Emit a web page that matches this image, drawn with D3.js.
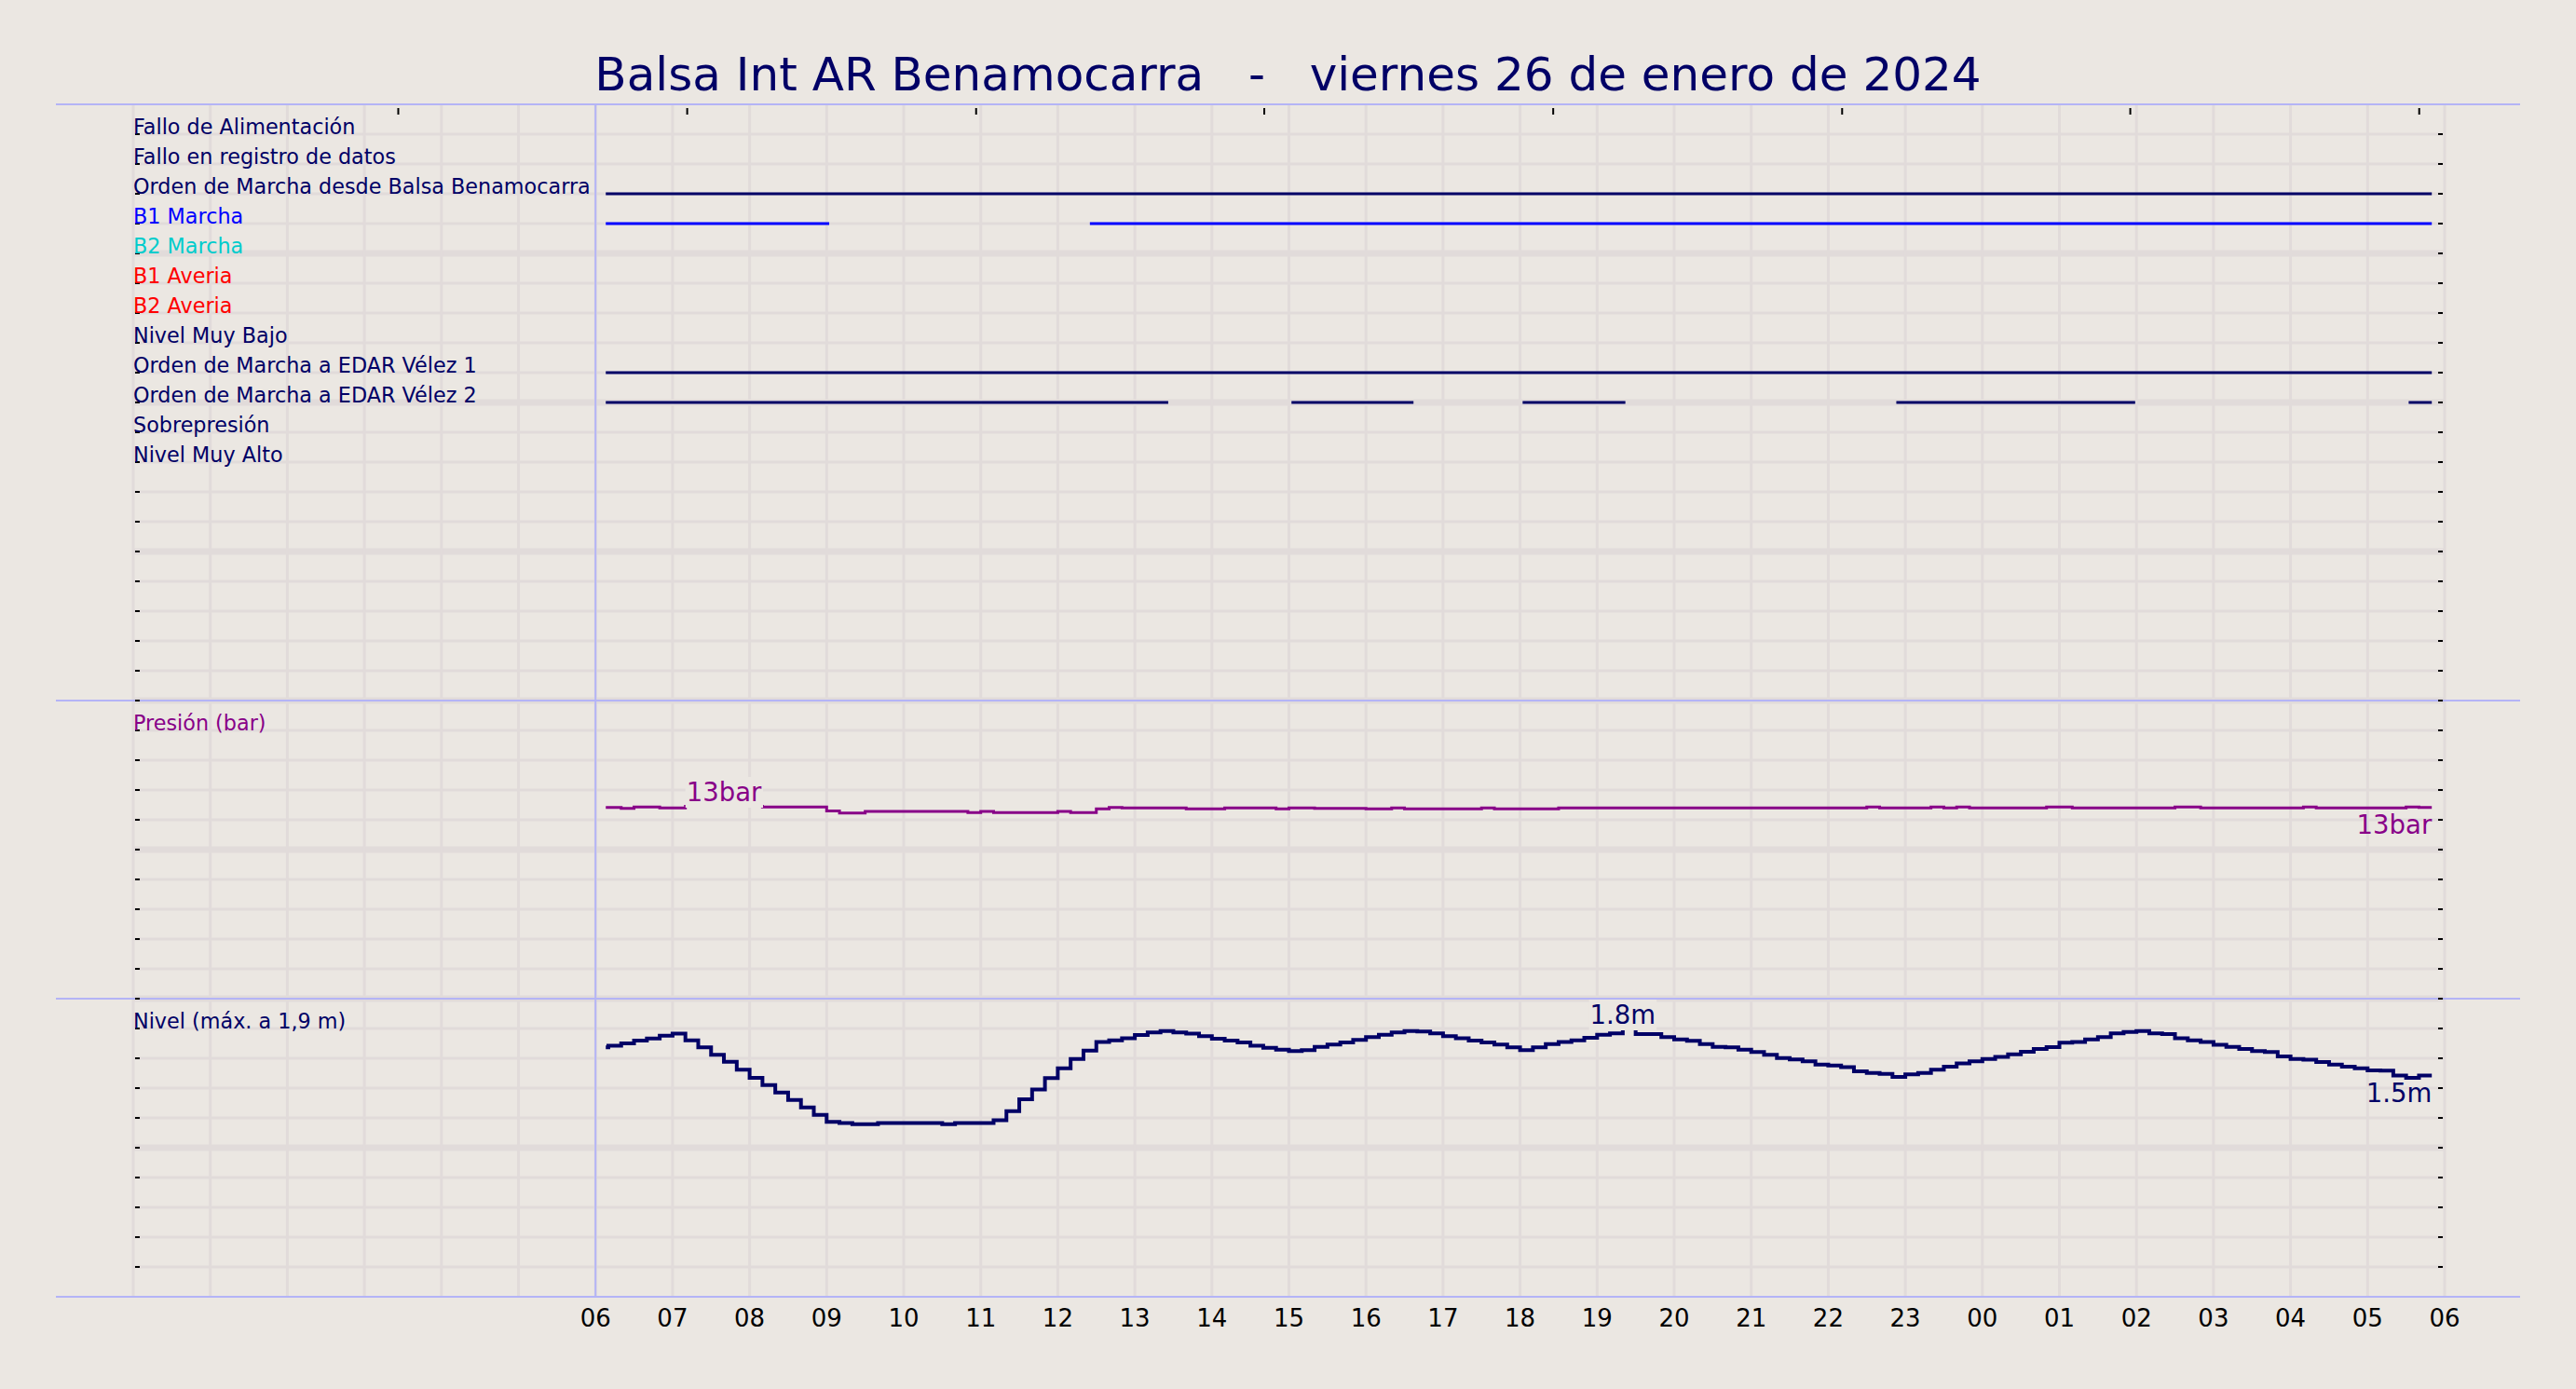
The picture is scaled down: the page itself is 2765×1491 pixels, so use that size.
<!DOCTYPE html>
<html><head><meta charset="utf-8">
<script src="https://cdn.jsdelivr.net/npm/d3@7"></script>
<style>
html,body{margin:0;padding:0;background:#ebe7e2;}
svg{display:block;}
text{font-family:"DejaVu Sans",sans-serif;}
</style></head><body>
<svg id="chart" width="2765" height="1491"></svg>
<script>
// ---------------- DATA ----------------
const chartTitle = "Balsa Int AR Benamocarra   -   viernes 26 de enero de 2024";

const signalLabels = [
  "Fallo de Alimentación", "Fallo en registro de datos", "Orden de Marcha desde Balsa Benamocarra",
  "B1 Marcha", "B2 Marcha", "B1 Averia", "B2 Averia", "Nivel Muy Bajo",
  "Orden de Marcha a EDAR Vélez 1", "Orden de Marcha a EDAR Vélez 2", "Sobrepresión", "Nivel Muy Alto"
];
const signalColors = [
  "#000066", "#000066", "#000066", "#0000ff", "#00cccc", "#ff0000", "#ff0000", "#000066",
  "#000066", "#000066", "#000066", "#000066"
];
// periods in which each digital signal is active [start, end]
const signalOn = [
  [], [],
  [["06:08", "05:50"]],
  [["06:08", "09:02"], ["12:25", "05:50"]],
  [], [], [], [],
  [["06:08", "05:50"]],
  [["06:08", "13:26"], ["15:02", "16:37"], ["18:02", "19:22"], ["22:53", "01:59"], ["05:32", "05:50"]],
  [], []
];

const pressureLabel = "Presión (bar)";
const levelLabel = "Nivel (máx. a 1,9 m)";

// sampling of the analog series
const seriesBegin = "06:08";
const sampleStart = "06:10";
const sampleStepMin = 10;
const seriesEnd = "05:50";

const pressureFirst = 12.83;
const pressureValues = [
  12.83, 12.77, 12.86, 12.86, 12.79, 12.79, 12.90, 12.95, 12.98, 13.00,
  12.95, 12.90, 12.86, 12.86, 12.86, 12.86, 12.86, 12.60, 12.46, 12.46,
  12.56, 12.56, 12.56, 12.56, 12.56, 12.56, 12.56, 12.56, 12.48, 12.56,
  12.48, 12.48, 12.48, 12.48, 12.48, 12.56, 12.48, 12.48, 12.73, 12.83,
  12.79, 12.79, 12.79, 12.79, 12.79, 12.73, 12.73, 12.73, 12.79, 12.79,
  12.79, 12.79, 12.73, 12.79, 12.79, 12.77, 12.77, 12.77, 12.77, 12.73,
  12.73, 12.79, 12.73, 12.73, 12.73, 12.73, 12.73, 12.73, 12.79, 12.73,
  12.73, 12.73, 12.73, 12.73, 12.79, 12.79, 12.79, 12.79, 12.79, 12.79,
  12.79, 12.79, 12.79, 12.79, 12.79, 12.79, 12.79, 12.79, 12.79, 12.79,
  12.79, 12.79, 12.79, 12.79, 12.79, 12.79, 12.79, 12.79, 12.86, 12.79,
  12.79, 12.79, 12.79, 12.86, 12.79, 12.86, 12.79, 12.79, 12.79, 12.79,
  12.79, 12.79, 12.86, 12.86, 12.79, 12.79, 12.79, 12.79, 12.79, 12.79,
  12.79, 12.79, 12.86, 12.86, 12.79, 12.79, 12.79, 12.79, 12.79, 12.79,
  12.79, 12.79, 12.86, 12.79, 12.79, 12.79, 12.79, 12.79, 12.79, 12.79,
  12.86, 12.83
];

const levelFirst = 1.673;
const levelValues = [
  1.685, 1.700, 1.719, 1.733, 1.752, 1.765, 1.721, 1.673, 1.623, 1.577,
  1.523, 1.469, 1.421, 1.371, 1.321, 1.271, 1.221, 1.173, 1.165, 1.158,
  1.158, 1.165, 1.165, 1.165, 1.165, 1.165, 1.158, 1.165, 1.165, 1.165,
  1.185, 1.246, 1.325, 1.390, 1.467, 1.533, 1.596, 1.652, 1.710, 1.721,
  1.735, 1.756, 1.773, 1.783, 1.773, 1.765, 1.748, 1.731, 1.719, 1.706,
  1.685, 1.671, 1.658, 1.648, 1.654, 1.677, 1.692, 1.706, 1.723, 1.742,
  1.758, 1.773, 1.783, 1.779, 1.767, 1.748, 1.735, 1.719, 1.706, 1.692,
  1.673, 1.654, 1.673, 1.696, 1.710, 1.721, 1.738, 1.758, 1.767, 1.800,
  1.763, 1.763, 1.742, 1.727, 1.717, 1.696, 1.677, 1.673, 1.658, 1.642,
  1.623, 1.602, 1.592, 1.579, 1.558, 1.552, 1.540, 1.513, 1.502, 1.496,
  1.475, 1.492, 1.502, 1.523, 1.544, 1.565, 1.579, 1.596, 1.610, 1.627,
  1.644, 1.663, 1.675, 1.704, 1.710, 1.727, 1.742, 1.767, 1.777, 1.783,
  1.767, 1.763, 1.735, 1.721, 1.710, 1.690, 1.677, 1.663, 1.648, 1.642,
  1.613, 1.596, 1.590, 1.575, 1.558, 1.544, 1.533, 1.519, 1.517, 1.485,
  1.469, 1.485
];

const hourTickValues = [6,7,8,9,10,11,12,13,14,15,16,17,18,19,20,21,22,23,24,25,26,27,28,29,30];
const hourTickLabels = ["06","07","08","09","10","11","12","13","14","15","16","17","18","19","20","21","22","23","00","01","02","03","04","05","06"];
const topTickHours = [3.44, 7.19, 10.94, 14.68, 18.43, 22.18, 25.92, 29.67];

// ---------------- LAYOUT ----------------
const W = 2765, H = 1491;
const plotL = 143, plotR = 2624, plotT = 112, plotB = 1392;
const nRows = 40;
const bg = "#ebe7e2", gridC = "#e1dbda", sepC = "#b4b4f6", navy = "#000066", purple = "#880088";
const labelSize = 22.3;

const svg = d3.select("#chart");
svg.append("rect").attr("width", W).attr("height", H).attr("fill", bg);

const x = d3.scaleLinear().domain([0, 30]).range([plotL, plotR]);
const row = d3.scaleLinear().domain([0, nRows]).range([plotT, plotB]);
const yP = d3.scaleLinear().domain([0, 20]).range([row(30), row(20)]);
const yL = d3.scaleLinear().domain([0, 2]).range([row(40), row(30)]);

function toHours(s) {
  const [h, m] = s.split(":").map(Number);
  return (h < 6 ? h + 24 : h) + m / 60;
}

// grid
const g = svg.append("g");
g.selectAll("line.hg").data(d3.range(1, nRows)).join("line")
  .attr("x1", plotL).attr("x2", plotR)
  .attr("y1", d => row(d)).attr("y2", d => row(d))
  .attr("stroke", gridC).attr("stroke-width", d => d % 5 === 0 ? 7 : 3);
g.selectAll("line.vg").data(d3.range(0, 31)).join("line")
  .attr("x1", d => x(d)).attr("x2", d => x(d))
  .attr("y1", plotT).attr("y2", plotB)
  .attr("stroke", gridC).attr("stroke-width", 3);

// start-of-day marker
svg.append("line").attr("x1", x(6)).attr("x2", x(6)).attr("y1", plotT).attr("y2", plotB)
  .attr("stroke", sepC).attr("stroke-width", 2);

// panel separators
svg.selectAll("line.sep").data([0, 20, 30, 40]).join("line")
  .attr("x1", 60).attr("x2", 2705)
  .attr("y1", d => row(d)).attr("y2", d => row(d))
  .attr("stroke", sepC).attr("stroke-width", 2);

// ticks
const ticks = svg.append("g").attr("stroke", "#000").attr("stroke-width", 2);
ticks.selectAll("line.lt").data(d3.range(1, nRows)).join("line")
  .attr("x1", plotL + 2).attr("x2", plotL + 7)
  .attr("y1", d => row(d)).attr("y2", d => row(d));
ticks.selectAll("line.rt").data(d3.range(1, nRows)).join("line")
  .attr("x1", plotR - 7).attr("x2", plotR - 2)
  .attr("y1", d => row(d)).attr("y2", d => row(d));
ticks.selectAll("line.tt").data(topTickHours).join("line")
  .attr("x1", d => x(d)).attr("x2", d => x(d))
  .attr("y1", plotT + 4).attr("y2", plotT + 11);

// digital signals
signalOn.forEach((segs, i) => {
  svg.append("g").selectAll("line").data(segs).join("line")
    .attr("x1", d => x(toHours(d[0]))).attr("x2", d => x(toHours(d[1])))
    .attr("y1", row(i + 1)).attr("y2", row(i + 1))
    .attr("stroke", signalColors[i]).attr("stroke-width", 3);
});
svg.append("g").selectAll("text").data(signalLabels).join("text")
  .attr("x", plotL).attr("y", (d, i) => row(i + 1))
  .attr("font-size", labelSize).attr("fill", (d, i) => signalColors[i])
  .text(d => d);

// analog series
function buildPoints(first, vals) {
  const pts = [[toHours(seriesBegin), first]];
  const t0 = toHours(sampleStart);
  vals.forEach((v, k) => pts.push([t0 + k * sampleStepMin / 60, v]));
  pts.push([toHours(seriesEnd), vals[vals.length - 1]]);
  return pts;
}
const pPts = buildPoints(pressureFirst, pressureValues);
const lPts = buildPoints(levelFirst, levelValues);

const lineP = d3.line().x(d => x(d[0])).y(d => yP(d[1])).curve(d3.curveStepAfter);
const lineL = d3.line().x(d => x(d[0])).y(d => yL(d[1])).curve(d3.curveStepAfter);

svg.append("path").attr("d", lineP(pPts)).attr("fill", "none")
  .attr("stroke", purple).attr("stroke-width", 3);
svg.append("path").attr("d", lineL(lPts)).attr("fill", "none")
  .attr("stroke", navy).attr("stroke-width", 4);

// panel labels
svg.append("text").attr("x", plotL).attr("y", row(21)).attr("font-size", labelSize)
  .attr("fill", purple).text(pressureLabel);
svg.append("text").attr("x", plotL).attr("y", row(31)).attr("font-size", labelSize)
  .attr("fill", navy).text(levelLabel);

// value annotations
function boxedLabel(px, py, txt, color, anchor) {
  const grp = svg.append("g");
  const t = grp.append("text").attr("x", px).attr("y", py).attr("font-size", 27.5)
    .attr("fill", color).attr("text-anchor", anchor).text(txt);
  const bb = t.node().getBBox();
  grp.insert("rect", "text").attr("x", bb.x - 1).attr("y", bb.y)
    .attr("width", bb.width + 2).attr("height", bb.height + 1).attr("fill", bg);
}
const pMax = pPts.slice(1, -1).reduce((a, b) => b[1] > a[1] ? b : a);
const lMax = lPts.slice(1, -1).reduce((a, b) => b[1] > a[1] ? b : a);
const pLast = pPts[pPts.length - 1], lLast = lPts[lPts.length - 1];
const fmtP = v => d3.format(".0f")(v) + "bar";
const fmtL = v => d3.format(".1f")(v) + "m";
boxedLabel(x(pMax[0]), yP(pMax[1]) - 4, fmtP(pMax[1]), purple, "middle");
boxedLabel(x(lMax[0]), yL(lMax[1]) - 5, fmtL(lMax[1]), navy, "middle");
svg.append("text").attr("x", x(pLast[0])).attr("y", yP(pLast[1]) + 28).attr("font-size", 27.5)
  .attr("fill", purple).attr("text-anchor", "end").text(fmtP(pLast[1]));
svg.append("text").attr("x", x(lLast[0])).attr("y", yL(lLast[1]) + 29).attr("font-size", 27.5)
  .attr("fill", navy).attr("text-anchor", "end").text(fmtL(lLast[1]));

// bottom hour axis labels
svg.append("g").selectAll("text").data(hourTickValues).join("text")
  .attr("x", d => x(d)).attr("y", 1424).attr("font-size", 26)
  .attr("text-anchor", "middle").attr("fill", "#000")
  .text((d, i) => hourTickLabels[i]);

// title
svg.append("text").attr("x", W / 2).attr("y", 97).attr("font-size", 50)
  .attr("text-anchor", "middle").attr("fill", navy)
  .style("white-space", "pre").attr("xml:space", "preserve")
  .text(chartTitle);
</script>
</body></html>
